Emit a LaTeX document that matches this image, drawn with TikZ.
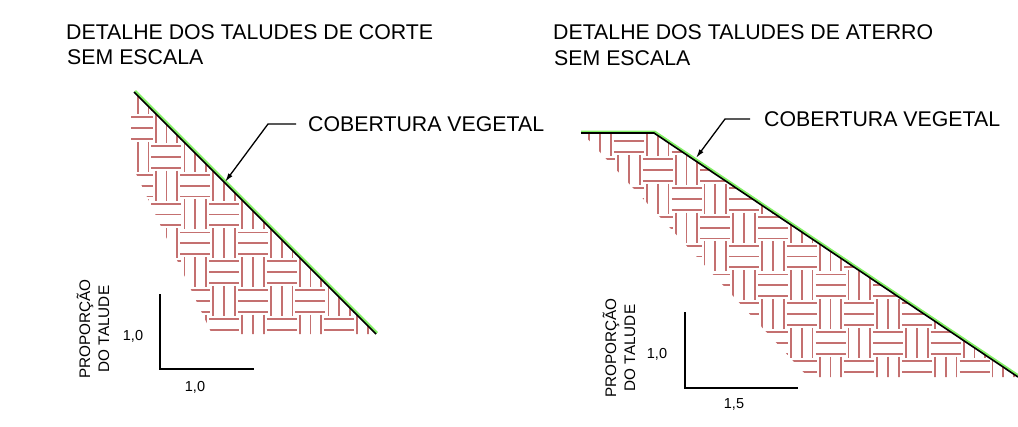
\documentclass[tikz,border=0pt]{standalone}
\usepackage{fontspec}
\usetikzlibrary{arrows.meta}
\setmainfont{Liberation Sans}
\definecolor{hatchred}{RGB}{196,112,112}
\definecolor{veg}{RGB}{130,240,100}
\newcommand{\parquet}[2]{%
  \foreach \ii in {-5,...,16}{\foreach \jj in {-7,...,12}{%
    \pgfmathsetmacro{\cx}{#1+28.8*\ii}\pgfmathsetmacro{\cy}{#2+28.8*\jj}%
    \pgfmathtruncatemacro{\oddtile}{mod(abs(\ii+\jj),2)}%
    \ifnum\oddtile=0
      \foreach \dd in {-10.8,0,10.8}{\draw[hatchbar] (\cx-15,\cy+\dd) -- (\cx+15,\cy+\dd);}%
    \else
      \foreach \dd in {-10.8,0,10.8}{\draw[hatchbar] (\cx+\dd,\cy-15) -- (\cx+\dd,\cy+15);}%
    \fi
  }}}
\tikzset{
  hatchbar/.style={draw=hatchred,line width=1.8pt},
  title/.style={anchor=west,font=\fontsize{21.3}{24}\selectfont,inner sep=0pt},
  label/.style={anchor=west,font=\fontsize{21.3}{24}\selectfont,inner sep=0pt},
  small/.style={font=\fontsize{14.5}{16}\selectfont,inner sep=0pt},
  rot/.style={font=\fontsize{15.3}{19}\selectfont,rotate=90,align=center,inner sep=0pt},
  slopegreen/.style={draw=veg,line width=3pt},
  slopeblack/.style={draw=black,line width=1.6pt},
  leader/.style={draw=black,line width=1.3pt},
  scalebar/.style={draw=black,line width=1.3pt},
}
\begin{document}
\begin{tikzpicture}[x=1pt,y=-1pt]
\useasboundingbox (0,0) rectangle (1018,426);
% hatch left
\begin{scope}
\clip (134,92) -- (376,334) -- (212,334) -- (131,163) -- (131,92) -- cycle;
\parquet{224}{272}
\end{scope}
% hatch right
\begin{scope}
\clip (581,133) -- (654,133) -- (1018,377) -- (808,377) -- (585,136) -- cycle;
\parquet{657.7}{170}
\end{scope}
% slopes
\coordinate (lt) at (134,92); \coordinate (lb) at (376,334);
\coordinate (rs) at (581,133); \coordinate (rk) at (654,133); \coordinate (re) at (1018,377);
\draw[slopegreen] ([shift={(0.9,-0.9)}]lt) -- ([shift={(0.9,-0.9)}]lb);
\draw[slopeblack] (lt) -- (lb);
\draw[slopegreen] ([shift={(0,-1)}]rs) -- ([shift={(0.5,-1)}]rk) -- ([shift={(0.5,-1)}]re);
\draw[slopeblack] (rs) -- (rk) -- (re);
% titles
\node[title] (t1a) at (66,32) {DETALHE DOS TALUDES DE CORTE};
\node[title] (t1b) at (67,57) {SEM ESCALA};
\node[title] (t2a) at (553,32) {DETALHE DOS TALUDES DE ATERRO};
\node[title] (t2b) at (554,58) {SEM ESCALA};
% labels + leaders
\node[label] (c1) at (308,124) {COBERTURA VEGETAL};
\node[label] (c2) at (764,119) {COBERTURA VEGETAL};
\coordinate (a1) at (296,124); \coordinate (k1) at (268,124); \coordinate (p1) at (225,182);
\coordinate (a2) at (750,119); \coordinate (k2) at (725,119); \coordinate (p2) at (696,158);
\draw[leader,-{Latex[length=9pt,width=5pt]}] (a1) -- (k1) -- (p1);
\draw[leader,-{Latex[length=9pt,width=5pt]}] (a2) -- (k2) -- (p2);
% scales
\coordinate (s1t) at (160,294); \coordinate (s1o) at (160,369); \coordinate (s1r) at (254,369);
\coordinate (s2t) at (685,312); \coordinate (s2o) at (685,388); \coordinate (s2r) at (798,388);
\draw[scalebar] (s1t) -- (s1o) -- (s1r);
\draw[scalebar] (s2t) -- (s2o) -- (s2r);
\node[small] (n1) at (133,336) {1,0};
\node[small] (n2) at (195,387) {1,0};
\node[small] (n3) at (657,354) {1,0};
\node[small] (n4) at (734,404) {1,5};
\node[rot] (r1) at (93,329) {PROPORÇÃO\\DO TALUDE};
\node[rot] (r2) at (619,348) {PROPORÇÃO\\DO TALUDE};
\end{tikzpicture}
\end{document}
